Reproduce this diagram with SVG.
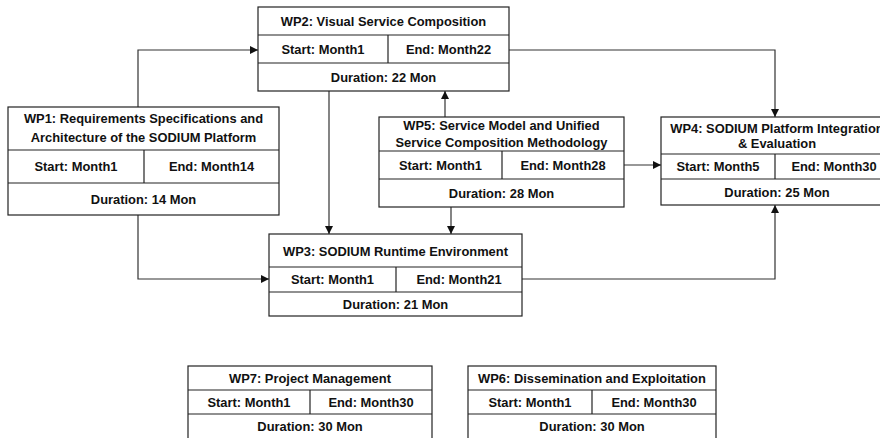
<svg xmlns="http://www.w3.org/2000/svg" width="880" height="438" viewBox="0 0 880 438">
<style>
rect,line.d{fill:#fff;stroke:#222;stroke-width:1.2}
line.d{fill:none}
text{font-family:"Liberation Sans",Arial,sans-serif;font-weight:bold;font-size:12.9px;fill:#111;text-anchor:middle;dominant-baseline:central}
.c path{fill:none;stroke:#333;stroke-width:1.2}
</style>
<defs>
<marker id="a" viewBox="0 0 10 10" refX="10" refY="5" markerWidth="8" markerHeight="8" markerUnits="userSpaceOnUse" orient="auto">
<path d="M0,0L10,5L0,10z" fill="#111"/>
</marker>
</defs>
<rect x="0" y="0" width="880" height="438" style="stroke:none"/>
<g class="c">
<path d="M138,107V50H258" marker-end="url(#a)"/>
<path d="M329,91V234" marker-end="url(#a)"/>
<path d="M445,117V91" marker-end="url(#a)"/>
<path d="M509,50H775V117" marker-end="url(#a)"/>
<path d="M624,165H661" marker-end="url(#a)"/>
<path d="M451,207V234" marker-end="url(#a)"/>
<path d="M138,215V279H269" marker-end="url(#a)"/>
<path d="M522,279H775V205" marker-end="url(#a)"/>
</g>
<g id="wp1">
<rect x="8" y="107" width="271" height="108"/>
<line class="d" x1="8" y1="150" x2="279" y2="150"/>
<line class="d" x1="8" y1="183" x2="279" y2="183"/>
<line class="d" x1="144" y1="150" x2="144" y2="183"/>
<text x="143.5" y="118">WP1: Requirements Specifications and</text>
<text x="143.5" y="137">Architecture of the SODIUM Platform</text>
<text x="76" y="166">Start: Month1</text>
<text x="211.5" y="166">End: Month14</text>
<text x="143.5" y="199">Duration: 14 Mon</text>
</g>
<g id="wp2">
<rect x="258" y="7" width="251" height="84"/>
<line class="d" x1="258" y1="35" x2="509" y2="35"/>
<line class="d" x1="258" y1="63" x2="509" y2="63"/>
<line class="d" x1="388" y1="35" x2="388" y2="63"/>
<text x="383.5" y="21">WP2: Visual Service Composition</text>
<text x="323" y="49">Start: Month1</text>
<text x="448.5" y="49">End: Month22</text>
<text x="383.5" y="77">Duration: 22 Mon</text>
</g>
<g id="wp5">
<rect x="379" y="117" width="245" height="90"/>
<line class="d" x1="379" y1="151" x2="624" y2="151"/>
<line class="d" x1="379" y1="179" x2="624" y2="179"/>
<line class="d" x1="502" y1="151" x2="502" y2="179"/>
<text x="501.5" y="125.5">WP5: Service Model and Unified</text>
<text x="501.5" y="142">Service Composition Methodology</text>
<text x="440.5" y="165">Start: Month1</text>
<text x="563" y="165">End: Month28</text>
<text x="501.5" y="193">Duration: 28 Mon</text>
</g>
<g id="wp4">
<rect x="661" y="117" width="232" height="88"/>
<line class="d" x1="661" y1="154" x2="893" y2="154"/>
<line class="d" x1="661" y1="179" x2="893" y2="179"/>
<line class="d" x1="775" y1="154" x2="775" y2="179"/>
<text x="777" y="128">WP4: SODIUM Platform Integration</text>
<text x="777" y="143">&amp; Evaluation</text>
<text x="718" y="166.5">Start: Month5</text>
<text x="834" y="166.5">End: Month30</text>
<text x="777" y="192">Duration: 25 Mon</text>
</g>
<g id="wp3">
<rect x="269" y="234" width="253" height="82"/>
<line class="d" x1="269" y1="267" x2="522" y2="267"/>
<line class="d" x1="269" y1="292" x2="522" y2="292"/>
<line class="d" x1="396" y1="267" x2="396" y2="292"/>
<text x="395.5" y="251">WP3: SODIUM Runtime Environment</text>
<text x="332.5" y="279.5">Start: Month1</text>
<text x="459" y="279.5">End: Month21</text>
<text x="395.5" y="304">Duration: 21 Mon</text>
</g>
<g id="wp7">
<rect x="188" y="366" width="244" height="80"/>
<line class="d" x1="188" y1="390" x2="432" y2="390"/>
<line class="d" x1="188" y1="414" x2="432" y2="414"/>
<line class="d" x1="310" y1="390" x2="310" y2="414"/>
<text x="310" y="378">WP7: Project Management</text>
<text x="249" y="402">Start: Month1</text>
<text x="371" y="402">End: Month30</text>
<text x="310" y="426">Duration: 30 Mon</text>
</g>
<g id="wp6">
<rect x="468" y="366" width="248" height="80"/>
<line class="d" x1="468" y1="390" x2="716" y2="390"/>
<line class="d" x1="468" y1="414" x2="716" y2="414"/>
<line class="d" x1="592" y1="390" x2="592" y2="414"/>
<text x="592" y="378">WP6: Dissemination and Exploitation</text>
<text x="530" y="402">Start: Month1</text>
<text x="654" y="402">End: Month30</text>
<text x="592" y="426">Duration: 30 Mon</text>
</g>
</svg>
